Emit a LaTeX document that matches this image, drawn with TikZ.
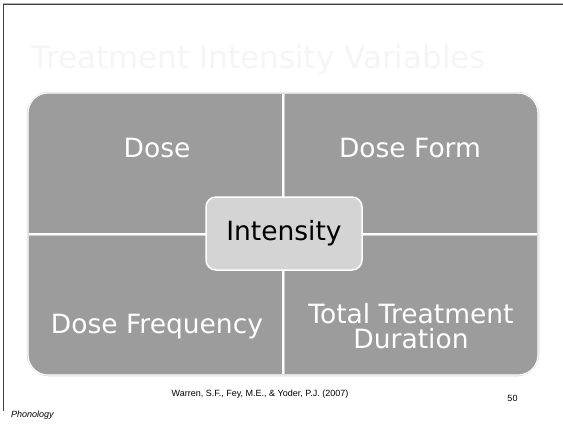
\documentclass[tikz,border=0pt]{standalone}
\usepackage{fontspec}
\setmainfont{DejaVu Sans}
\newfontfamily\footfont{Liberation Sans}
\usetikzlibrary{positioning}
\definecolor{cellgray}{HTML}{9C9C9C}
\definecolor{hubgray}{HTML}{D4D4D4}
\definecolor{rimgray}{HTML}{CFCFCF}
\tikzstyle{cell} = [text=white, font=\fontsize{26.5}{24.5}\selectfont, align=center, inner sep=0pt]
\tikzstyle{hub} = [rectangle, rounded corners=10pt, fill=hubgray, draw=white, line width=1.5pt, minimum width=156pt, minimum height=73pt, font=\fontsize{26.5}{30}\selectfont]
\tikzstyle{foot} = [font=\footfont\fontsize{9}{10}\selectfont, inner sep=0pt]
\tikzstyle{divider} = [line width=3pt, draw=rimgray]

\begin{document}
\begin{tikzpicture}[x=1pt,y=-1pt]
\useasboundingbox (0,0) rectangle (563,424);
% slide frame
\draw[gray!60, line width=0.6pt] (3,3.6)--(563,3.6);
\draw[black!75, line width=1pt] (3,4.8)--(563,4.8);
\draw[black!75, line width=1pt] (3,4.5)--(3,411);
% title
\node (title) [anchor=base, text=black!4, font=\fontsize{31}{36}\selectfont] at (259,68) {Treatment Intensity Variables};
% matrix
\draw[rimgray, line width=2.5pt, rounded corners=21pt] (28,93) rectangle (538,375);
\fill[cellgray, draw=white, line width=1.2pt, rounded corners=20pt] (28,93) rectangle (538,375);
\coordinate (top) at (283,94);
\coordinate (bot) at (283,374);
\coordinate (lft) at (29,234);
\coordinate (rgt) at (537,234);
\draw[divider] (top)--(bot);
\draw[divider] (lft)--(rgt);
\draw[white, line width=1.4pt] (top)--(bot);
\draw[white, line width=1.4pt] (lft)--(rgt);
\node (dose) [cell, anchor=base] at (157,157) {Dose};
\node (form) [cell, anchor=base] at (410,157) {Dose Form};
\node (freq) [cell, anchor=base] at (157,333) {Dose Frequency};
\node (total) [cell] at (411,326) {Total Treatment\\Duration};
\node (hub) [hub] at (284,233.5) {Intensity};
% footer
\node (cite) [foot, anchor=base] at (260,396.5) {Warren, S.F., Fey, M.E., \& Yoder, P.J. (2007)};
\node (page) [foot, anchor=base] at (512.5,401.5) {50};
\node (course) [foot, anchor=base west, font=\footfont\itshape\fontsize{9}{10}\selectfont] at (11,417.5) {Phonology};
\end{tikzpicture}
\end{document}
